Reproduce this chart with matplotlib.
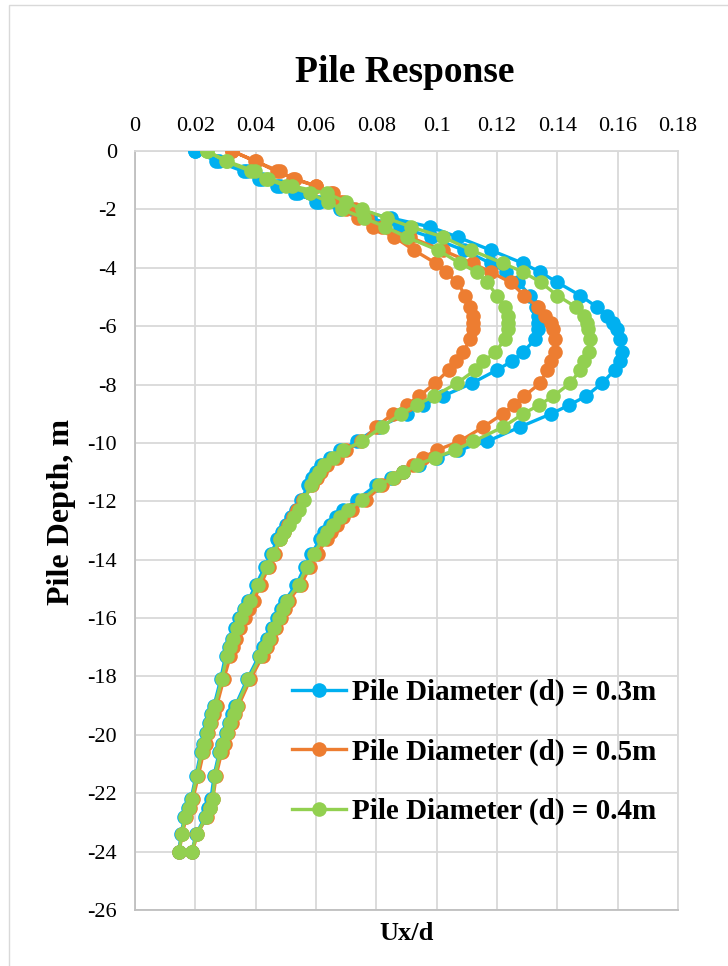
import matplotlib
matplotlib.use("Agg")
import matplotlib.pyplot as plt
from matplotlib.patches import Rectangle

# Node depths along the pile (m), shared by every curve
depth = [0, -0.35, -0.7, -0.95, -1.2, -1.45, -1.75, -2.0, -2.3, -2.6, -2.95, -3.4,
         -3.85, -4.15, -4.5, -4.95, -5.35, -5.65, -5.9, -6.1, -6.45, -6.9, -7.2,
         -7.5, -7.95, -8.4, -8.7, -9.0, -9.45, -9.95, -10.25, -10.5, -10.75, -11.0,
         -11.2, -11.45, -11.95, -12.3, -12.55, -12.8, -13.05, -13.3, -13.8, -14.25,
         -14.85, -15.4, -15.7, -16.0, -16.35, -16.7, -17.0, -17.3, -18.1, -19.0,
         -19.3, -19.6, -19.95, -20.3, -20.6, -21.4, -22.2, -22.5, -22.8, -23.4, -24.0]

# d = 0.3 m : outer envelope (going down) and inner envelope (coming back up)
d03_outer = [0.0199, 0.027, 0.036, 0.041, 0.047, 0.053, 0.061, 0.072, 0.085, 0.0978,
             0.107, 0.118, 0.1287, 0.1343, 0.140, 0.1476, 0.1532, 0.1566, 0.1585,
             0.1597, 0.1609, 0.1615, 0.1609, 0.1590, 0.1549, 0.1495, 0.1440, 0.1380,
             0.1277, 0.1167, 0.107, 0.100, 0.094, 0.089, 0.085, 0.080, 0.0735, 0.069,
             0.0665, 0.0645, 0.0628, 0.0614, 0.0585, 0.0563, 0.0535, 0.0497, 0.0484,
             0.0470, 0.0455, 0.0437, 0.0424, 0.0411, 0.0372, 0.0333, 0.0323, 0.0312,
             0.0300, 0.0289, 0.0279, 0.0262, 0.0252, 0.0243, 0.0233, 0.0203, 0.0188]
d03_inner = [0.0199, 0.028, 0.037, 0.042, 0.048, 0.054, 0.060, 0.068, 0.078, 0.088,
             0.098, 0.109, 0.118, 0.123, 0.127, 0.131, 0.133, 0.1337, 0.1337, 0.1335,
             0.1327, 0.1285, 0.125, 0.120, 0.1118, 0.102, 0.0955, 0.090, 0.081, 0.0735,
             0.068, 0.0645, 0.0618, 0.0600, 0.0588, 0.0575, 0.0550, 0.0535, 0.0518,
             0.0500, 0.0486, 0.0472, 0.0451, 0.0430, 0.0402, 0.0375, 0.0360, 0.0346,
             0.0333, 0.0321, 0.0310, 0.0300, 0.0284, 0.0262, 0.0253, 0.0244, 0.0235,
             0.0226, 0.0218, 0.0202, 0.0186, 0.0176, 0.0164, 0.0153, 0.0145]

# d = 0.5 m
d05_outer = [0.0322, 0.040, 0.047, 0.053, 0.060, 0.0657, 0.069, 0.073, 0.077, 0.082,
             0.091, 0.102, 0.112, 0.118, 0.1245, 0.129, 0.1335, 0.1358, 0.1378, 0.1386,
             0.1393, 0.1391, 0.1378, 0.1366, 0.1343, 0.129, 0.1255, 0.122, 0.1155,
             0.1075, 0.100, 0.0955, 0.092, 0.089, 0.086, 0.082, 0.0765, 0.072, 0.069,
             0.067, 0.065, 0.0635, 0.0605, 0.058, 0.055, 0.051, 0.0498, 0.0483, 0.0467,
             0.045, 0.0437, 0.0423, 0.0382, 0.0343, 0.0332, 0.0321, 0.0309, 0.0297,
             0.0287, 0.0269, 0.0258, 0.0248, 0.0238, 0.0207, 0.0190]
d05_inner = [0.0322, 0.0398, 0.048, 0.0525, 0.060, 0.065, 0.068, 0.070, 0.074, 0.079,
             0.086, 0.0925, 0.0998, 0.103, 0.1068, 0.1095, 0.111, 0.112, 0.1121, 0.112,
             0.111, 0.1088, 0.1065, 0.104, 0.0995, 0.0942, 0.090, 0.0855, 0.080, 0.075,
             0.0700, 0.0668, 0.0638, 0.0618, 0.0603, 0.0588, 0.0558, 0.0538, 0.0523,
             0.0508, 0.0493, 0.0481, 0.0463, 0.0443, 0.0417, 0.0393, 0.0378, 0.0363,
             0.0348, 0.0336, 0.0326, 0.0316, 0.0294, 0.0271, 0.0261, 0.0251, 0.0243,
             0.0234, 0.0227, 0.0210, 0.0192, 0.0182, 0.0170, 0.0157, 0.0146]

# d = 0.4 m
d04_outer = [0.0238, 0.0305, 0.0398, 0.0440, 0.0520, 0.0637, 0.070, 0.0753, 0.0835,
             0.0915, 0.1022, 0.1115, 0.1221, 0.1287, 0.1345, 0.1400, 0.1462, 0.1488,
             0.1497, 0.1502, 0.1509, 0.1505, 0.1490, 0.1476, 0.1443, 0.1386, 0.1340,
             0.1287, 0.1221, 0.1121, 0.1060, 0.0995, 0.0935, 0.0890, 0.0855, 0.0810,
             0.0752, 0.0705, 0.0680, 0.0655, 0.0638, 0.0622, 0.0592, 0.0570, 0.0542,
             0.0503, 0.0490, 0.0476, 0.0460, 0.0443, 0.0430, 0.0416, 0.0376, 0.0337,
             0.0327, 0.0316, 0.0304, 0.0292, 0.0282, 0.0265, 0.0257, 0.0247, 0.0236,
             0.0205, 0.0188]
d04_inner = [0.0238, 0.030, 0.0385, 0.0435, 0.0500, 0.0580, 0.064, 0.0687, 0.0760,
             0.0830, 0.0900, 0.1005, 0.1078, 0.1134, 0.1167, 0.1200, 0.1225, 0.1236,
             0.1237, 0.1235, 0.1226, 0.1194, 0.1155, 0.1128, 0.1068, 0.0990, 0.0934,
             0.0882, 0.0818, 0.0752, 0.0690, 0.0658, 0.0628, 0.0610, 0.0598, 0.0585,
             0.0560, 0.0545, 0.0528, 0.0510, 0.0495, 0.0480, 0.0459, 0.0437, 0.0409,
             0.0381, 0.0366, 0.0352, 0.0338, 0.0326, 0.0315, 0.0304, 0.0288, 0.0265,
             0.0256, 0.0247, 0.0238, 0.0229, 0.0221, 0.0205, 0.0188, 0.0178, 0.0166,
             0.0155, 0.0146]

labels = ["Pile Diameter (d) = 0.3m", "Pile Diameter (d) = 0.5m", "Pile Diameter (d) = 0.4m"]
colors = ["#00B0F0", "#ED7D31", "#92D050"]

x_ticks = [0, 0.02, 0.04, 0.06, 0.08, 0.1, 0.12, 0.14, 0.16, 0.18]
x_tick_labels = ["0", "0.02", "0.04", "0.06", "0.08", "0.1", "0.12", "0.14", "0.16", "0.18"]
y_ticks = [0, -2, -4, -6, -8, -10, -12, -14, -16, -18, -20, -22, -24, -26]
y_tick_labels = ["0", "-2", "-4", "-6", "-8", "-10", "-12", "-14", "-16", "-18",
                 "-20", "-22", "-24", "-26"]

plt.rcParams["font.family"] = ["Liberation Serif", "DejaVu Serif"]

W, H = 728, 966
fig = plt.figure(figsize=(W / 100, H / 100), dpi=100)
fig.patch.set_facecolor("white")

# chart-area border
fig.add_artist(Rectangle((9 / W, -0.05), 1.2, 1 - 5 / H + 0.05, transform=fig.transFigure,
                         fill=False, edgecolor="#D9D9D9", linewidth=1.0))

left, right, top, bottom = 135, 678, 151, 910
ax = fig.add_axes([left / W, 1 - bottom / H, (right - left) / W, (bottom - top) / H])

series = [(d03_outer, d03_inner), (d05_outer, d05_inner), (d04_outer, d04_inner)]
for (outer, inner), lab, col in zip(series, labels, colors):
    xs = list(outer) + list(inner[::-1])
    ys = list(depth) + list(depth[::-1])
    ax.plot(xs, ys, color=col, linewidth=2.4, marker="o", markersize=10.5,
            markeredgewidth=0, label=lab, solid_joinstyle="round", zorder=3)

ax.set_xlim(0, 0.18)
ax.set_ylim(-26, 0)
ax.set_xticks(x_ticks)
ax.set_xticklabels(x_tick_labels)
ax.set_yticks(y_ticks)
ax.set_yticklabels(y_tick_labels)
ax.xaxis.tick_top()
ax.tick_params(axis="both", length=0, labelsize=16)
ax.tick_params(axis="x", pad=11)
ax.tick_params(axis="y", pad=13)
ax.grid(True, color="#D9D9D9", linewidth=1.3, zorder=0)
ax.set_axisbelow(True)
for s in ax.spines.values():
    s.set_color("#D9D9D9")
    s.set_linewidth(1.3)
ax.spines["left"].set_color("#BFBFBF")
ax.spines["bottom"].set_color("#BFBFBF")

ax.xaxis.set_label_position("bottom")
ax.set_xlabel("Ux/d", fontsize=19, fontweight="bold")
ax.xaxis.set_label_coords(0.5, -23 / (bottom - top), transform=ax.transAxes)
ax.xaxis.label.set_va("center")
ax.set_ylabel("Pile Depth, m", fontsize=23, fontweight="bold")
ax.yaxis.set_label_coords(-73 / (right - left), (bottom - 512) / (bottom - top))
ax.yaxis.label.set_va("center")

fig.text(405 / W, 1 - 72 / H, "Pile Response", ha="center", va="center",
         fontsize=27, fontweight="bold")

leg = ax.legend(loc="upper left", bbox_to_anchor=(292 / W, 1 - 679 / H),
                bbox_transform=fig.transFigure, frameon=False,
                prop={"size": 21, "weight": "bold"}, handlelength=1.85,
                handletextpad=0.2, labelspacing=1.1, borderpad=0, borderaxespad=0)

fig.savefig("out.png", dpi=100)
